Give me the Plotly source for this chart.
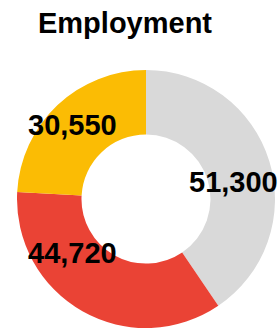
import math
import plotly.graph_objects as go

categories = ["A", "B", "C"]
values = [51300, 44720, 30550]
text_labels = ["51,300", "44,720", "30,550"]
colors = ["#D9D9D9", "#EA4335", "#FBBC04"]

# label placement style (angle nudge in degrees, radius as fraction of outer radius)
label_angle_nudge = [6, 24, -1.5]
label_radius_frac = [0.69, 0.71, 0.81]

W, H = 280, 330
ML, MR, MT, MB = 17, 5, 70, 2

fig = go.Figure(go.Pie(
    labels=categories,
    values=values,
    textinfo="none",
    marker=dict(colors=colors, line=dict(width=0)),
    hole=0.5,
    sort=False,
    direction="clockwise",
    rotation=0,
    showlegend=False,
    hoverinfo="label+value",
))

total = sum(values)
cum = 0
annotations = []
for v, t, nudge, rf in zip(values, text_labels, label_angle_nudge, label_radius_frac):
    mid = (cum + v / 2) / total * 360 + nudge
    cum += v
    r = rf * 0.5  # fraction of domain width (outer radius = 0.5)
    ang = math.radians(mid)
    annotations.append(dict(
        x=0.5 + r * math.sin(ang), y=0.5 + r * math.cos(ang),
        xref="paper", yref="paper", text=f"<b>{t}</b>", showarrow=False,
        xanchor="center", yanchor="middle",
        font=dict(family="Liberation Sans, Arial, sans-serif", size=29, color="black"),
    ))

fig.update_layout(
    width=W, height=H,
    margin=dict(l=ML, r=MR, t=MT, b=MB),
    paper_bgcolor="white",
    plot_bgcolor="white",
    annotations=annotations,
    title=dict(
        text="<b>Employment</b>",
        x=125 / W, xanchor="center", xref="container",
        y=1 - 33 / H, yanchor="bottom", yref="container",
        font=dict(family="Liberation Sans, Arial, sans-serif", size=29, color="black"),
    ),
)

fig.write_html(
    "out.html",
    config={"displayModeBar": False},
    post_script="document.body.style.margin='0';document.body.style.overflow='hidden';",
)
